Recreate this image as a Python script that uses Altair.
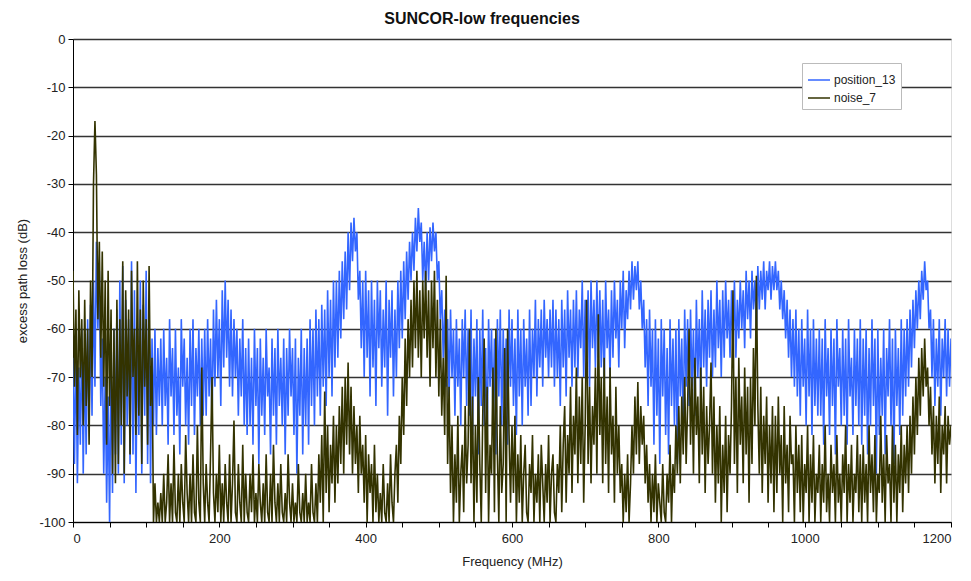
import altair as alt
import pandas as pd

# Frequency grid (MHz): one sample every 2 MHz from 0 to 1200
freq = list(range(0, 1201, 2))

# position_13 (dB); one row = 60 MHz (30 samples)
position_13_rows = [
    [-66,-88,-62,-92,-68,-84,-60,-90,-64,-86,-58,-80,-55,-78,-50,-72,-42,-60,-48,-76,-62,-90,-70,-96,-74,-100,-66,-94,-60,-86],
    [-56,-90,-50,-84,-47,-92,-54,-80,-58,-88,-46,-86,-52,-94,-60,-82,-50,-90,-55,-78,-48,-88,-58,-92,-62,-80,-60,-82,-64,-76],
    [-62,-80,-60,-76,-66,-84,-58,-74,-64,-82,-60,-78,-68,-86,-58,-72,-62,-80,-66,-84,-60,-76,-58,-82,-64,-74,-60,-80,-62,-78],
    [-60,-78,-58,-74,-62,-80,-56,-72,-54,-70,-58,-76,-52,-68,-50,-66,-54,-72,-56,-74,-58,-70,-60,-78,-62,-74,-58,-80,-64,-82],
    [-62,-80,-66,-84,-60,-76,-64,-88,-62,-78,-66,-82,-60,-74,-68,-86,-62,-78,-64,-84,-60,-76,-66,-80,-62,-86,-64,-78,-60,-74],
    [-64,-82,-62,-90,-66,-78,-60,-86,-64,-80,-62,-84,-58,-76,-60,-80,-56,-74,-58,-78,-55,-72,-56,-76,-52,-70,-54,-74,-50,-68],
    [-50,-66,-48,-62,-46,-58,-44,-56,-40,-52,-38,-46,-37,-44,-40,-54,-48,-64,-50,-70,-48,-66,-52,-74,-50,-68,-54,-76,-50,-64],
    [-52,-72,-56,-68,-50,-78,-54,-66,-52,-74,-56,-70,-50,-64,-48,-62,-46,-58,-44,-54,-42,-50,-40,-48,-37,-44,-35,-42,-38,-50],
    [-42,-52,-40,-50,-39,-46,-38,-44,-40,-50,-46,-58,-52,-66,-56,-72,-58,-74,-56,-70,-60,-78,-58,-72,-62,-80,-58,-70,-56,-76],
    [-60,-78,-56,-82,-62,-74,-58,-86,-60,-76,-56,-80,-64,-84,-58,-72,-60,-78,-62,-86,-58,-74,-56,-80,-60,-76,-62,-84,-56,-72],
    [-58,-76,-62,-82,-56,-74,-60,-80,-58,-72,-62,-78,-56,-76,-60,-70,-54,-74,-58,-68,-56,-72,-54,-66,-58,-70,-56,-68,-54,-72],
    [-56,-70,-58,-76,-54,-68,-56,-74,-52,-66,-56,-72,-54,-68,-52,-70,-56,-64,-50,-70,-54,-66,-52,-72,-50,-64,-54,-68,-50,-66],
    [-52,-68,-54,-72,-50,-64,-56,-70,-52,-66,-50,-62,-54,-68,-50,-60,-48,-64,-52,-58,-48,-56,-46,-54,-47,-52,-46,-56,-50,-60],
    [-54,-68,-58,-76,-56,-72,-60,-84,-58,-78,-62,-88,-58,-74,-60,-82,-64,-86,-58,-76,-62,-80,-60,-88,-58,-74,-62,-82,-56,-72],
    [-58,-76,-56,-72,-60,-78,-54,-70,-58,-74,-52,-68,-56,-72,-54,-66,-52,-70,-56,-68,-50,-64,-54,-70,-52,-66,-50,-62,-54,-66],
    [-52,-64,-50,-66,-54,-62,-50,-60,-52,-64,-48,-58,-50,-62,-48,-56,-50,-60,-47,-56,-48,-54,-46,-56,-48,-52,-46,-54,-47,-52],
    [-46,-52,-48,-56,-50,-58,-52,-62,-54,-66,-56,-70,-58,-72,-56,-74,-60,-78,-58,-72,-62,-80,-56,-74,-60,-82,-58,-76,-62,-78],
    [-60,-78,-62,-84,-58,-74,-64,-82,-60,-76,-62,-86,-58,-72,-64,-80,-60,-78,-62,-84,-58,-74,-66,-82,-60,-76,-62,-80,-58,-84],
    [-62,-78,-60,-86,-64,-80,-58,-76,-62,-90,-60,-82,-66,-78,-60,-86,-64,-74,-58,-80,-62,-88,-60,-76,-64,-82,-58,-78,-60,-74],
    [-58,-72,-56,-68,-54,-64,-52,-60,-50,-58,-48,-54,-46,-52,-50,-60,-56,-70,-58,-76,-62,-72,-58,-78,-62,-70,-58,-74,-60,-72],
    [-62],
]

# noise_7 (dB); one row = 60 MHz (30 samples)
noise_7_rows = [
    [-48,-72,-56,-82,-52,-70,-58,-80,-54,-76,-60,-84,-50,-70,-30,-17,-28,-58,-42,-66,-44,-72,-50,-84,-48,-76,-56,-90,-60,-92],
    [-54,-88,-58,-80,-46,-90,-52,-74,-56,-86,-48,-70,-60,-82,-46,-78,-56,-88,-50,-72,-58,-84,-47,-76,-66,-100,-92,-100,-96,-100],
    [-94,-100,-90,-100,-96,-86,-100,-92,-100,-84,-98,-100,-90,-100,-88,-96,-100,-82,-94,-100,-90,-100,-86,-98,-100,-80,-96,-100,-68,-92],
    [-100,-88,-96,-100,-86,-70,-94,-100,-90,-98,-84,-100,-92,-100,-88,-96,-100,-86,-100,-92,-79,-98,-100,-88,-96,-100,-84,-100,-90,-98],
    [-100,-90,-98,-86,-100,-94,-100,-88,-96,-100,-92,-100,-86,-98,-100,-90,-100,-84,-96,-100,-92,-100,-88,-98,-100,-94,-100,-86,-96,-100],
    [-92,-100,-96,-100,-88,-98,-100,-94,-100,-90,-100,-96,-100,-88,-98,-100,-92,-100,-86,-96,-82,-100,-73,-94,-80,-98,-84,-92,-78,-96],
    [-80,-92,-76,-88,-72,-90,-70,-84,-67,-86,-72,-90,-76,-88,-80,-94,-78,-90,-84,-96,-82,-100,-86,-94,-88,-100,-84,-98,-90,-100],
    [-94,-100,-88,-98,-100,-92,-100,-86,-96,-100,-90,-84,-96,-78,-88,-70,-82,-62,-76,-58,-70,-54,-68,-50,-64,-48,-66,-52,-70,-50],
    [-62,-48,-66,-52,-72,-50,-64,-48,-70,-54,-74,-58,-78,-66,-82,-49,-88,-72,-94,-80,-100,-86,-96,-78,-100,-90,-84,-98,-76,-92],
    [-84,-60,-92,-74,-100,-80,-96,-70,-88,-100,-78,-62,-94,-72,-100,-84,-90,-68,-98,-60,-86,-100,-76,-94,-88,-64,-100,-60,-82,-96],
    [-80,-94,-78,-100,-86,-96,-82,-100,-90,-84,-98,-100,-88,-94,-82,-100,-90,-96,-86,-100,-84,-92,-100,-88,-96,-82,-100,-90,-86,-98],
    [-100,-88,-94,-80,-98,-84,-76,-96,-82,-90,-72,-94,-78,-86,-68,-92,-74,-88,-70,-96,-80,-54,-88,-72,-92,-76,-84,-68,-90,-57],
    [-82,-70,-92,-66,-88,-74,-94,-68,-86,-78,-96,-72,-90,-80,-94,-88,-100,-90,-98,-86,-100,-92,-80,-90,-74,-86,-71,-88,-76,-84],
    [-78,-92,-84,-96,-88,-100,-90,-98,-86,-100,-92,-96,-100,-88,-98,-100,-90,-96,-84,-100,-88,-94,-80,-90,-76,-92,-74,-86,-70,-88],
    [-76,-60,-84,-70,-90,-66,-82,-74,-92,-68,-86,-72,-94,-76,-88,-80,-67,-90,-74,-96,-80,-92,-76,-100,-84,-94,-78,-98,-82,-90],
    [-76,-52,-88,-70,-94,-66,-84,-74,-92,-68,-86,-72,-96,-70,-88,-64,-80,-49,-76,-90,-72,-94,-78,-88,-74,-96,-80,-92,-76,-98],
    [-78,-94,-74,-90,-82,-100,-76,-92,-84,-98,-78,-88,-86,-100,-80,-94,-84,-98,-82,-100,-88,-94,-80,-100,-86,-96,-82,-100,-90,-94],
    [-84,-100,-88,-96,-80,-98,-90,-100,-84,-94,-88,-100,-82,-96,-90,-100,-86,-94,-80,-100,-88,-96,-84,-100,-90,-94,-82,-98,-86,-100],
    [-84,-96,-88,-100,-80,-94,-86,-98,-82,-100,-90,-94,-78,-96,-86,-100,-82,-92,-88,-100,-80,-96,-84,-100,-86,-94,-80,-98,-84,-92],
    [-80,-94,-78,-90,-74,-86,-70,-82,-66,-78,-64,-74,-62,-72,-68,-80,-72,-86,-76,-92,-78,-88,-74,-94,-80,-86,-76,-92,-78,-84],
    [-80],
]

series_names = ["position_13", "noise_7"]
series_colors = ["#3366FF", "#333300"]
y_ticks = list(range(-100, 1, 10))
x_ticks = list(range(0, 1201, 50))

for name, rws in (("position_13", position_13_rows), ("noise_7", noise_7_rows)):
    bad = [(i, len(r)) for i, r in enumerate(rws[:-1]) if len(r) != 30]
    if bad:
        raise ValueError(f"{name} rows with wrong length: {bad}")

position_13 = [v for r in position_13_rows for v in r]
noise_7 = [v for r in noise_7_rows for v in r]

rows = []
for f, v in zip(freq, position_13):
    rows.append({"freq": f, "value": v, "series": "position_13"})
for f, v in zip(freq, noise_7):
    rows.append({"freq": f, "value": v, "series": "noise_7"})
df = pd.DataFrame(rows)

FONT = "Liberation Sans"

x_enc = alt.X(
    "freq:Q",
    scale=alt.Scale(domain=[0, 1200], nice=False),
    axis=alt.Axis(
        title="Frequency (MHz)",
        values=x_ticks,
        labelExpr="datum.value % 200 == 0 ? '' + datum.value : ''",
        grid=False,
        tickSize=5,
        tickColor="#000",
        domainColor="#000",
        labelFontSize=13,
        labelColor="#222",
        labelPadding=5,
        titleFontSize=13,
        titleFontWeight="normal",
        titleColor="#222",
        titlePadding=10,
        labelFont=FONT,
        titleFont=FONT,
    ),
)
y_enc = alt.Y(
    "value:Q",
    scale=alt.Scale(domain=[-100, 0], nice=False),
    axis=alt.Axis(
        title="excess path loss (dB)",
        values=y_ticks,
        labelExpr="'' + datum.value",
        grid=True,
        gridColor="#333333",
        gridWidth=1.4,
        gridOpacity=1,
        tickSize=5,
        tickColor="#000",
        domainColor="#000",
        labelFontSize=13,
        labelColor="#222",
        labelPadding=3,
        titleFontSize=13,
        titleFontWeight="normal",
        titleColor="#222",
        titlePadding=9,
        labelFont=FONT,
        titleFont=FONT,
    ),
)
color_enc = alt.Color(
    "series:N",
    scale=alt.Scale(domain=series_names, range=series_colors),
    legend=alt.Legend(
        title=None,
        orient="none",
        legendX=729,
        legendY=24,
        symbolType="stroke",
        symbolSize=484,
        symbolStrokeWidth=1.5,
        labelFontSize=12,
        labelFont=FONT,
        labelColor="#222",
        fillColor="white",
        strokeColor="#bbbbbb",
        padding=5,
        rowPadding=0,
        labelOffset=3,
    ),
)

base = alt.Chart(df).mark_line(strokeWidth=1.6, clip=True).encode(
    x=x_enc, y=y_enc, color=color_enc
)

blue = base.transform_filter(alt.datum.series == "position_13")
dark = base.transform_filter(alt.datum.series == "noise_7")

chart = (
    alt.layer(blue, dark)
    .properties(
        width=878,
        height=483,
        title=alt.TitleParams(
            "SUNCOR-low frequencies",
            fontSize=16,
            fontWeight="bold",
            font=FONT,
            anchor="middle",
            dx=-30,
            offset=6,
            color="#111",
        ),
        autosize=alt.AutoSizeParams(type="none"),
        padding={"left": 65, "top": 31, "right": 12, "bottom": 50},
    )
    .configure_view(stroke="#000", strokeWidth=1)
    .configure(background="white")
)

chart.save("out.html", embed_options={"renderer": "svg", "actions": False})
